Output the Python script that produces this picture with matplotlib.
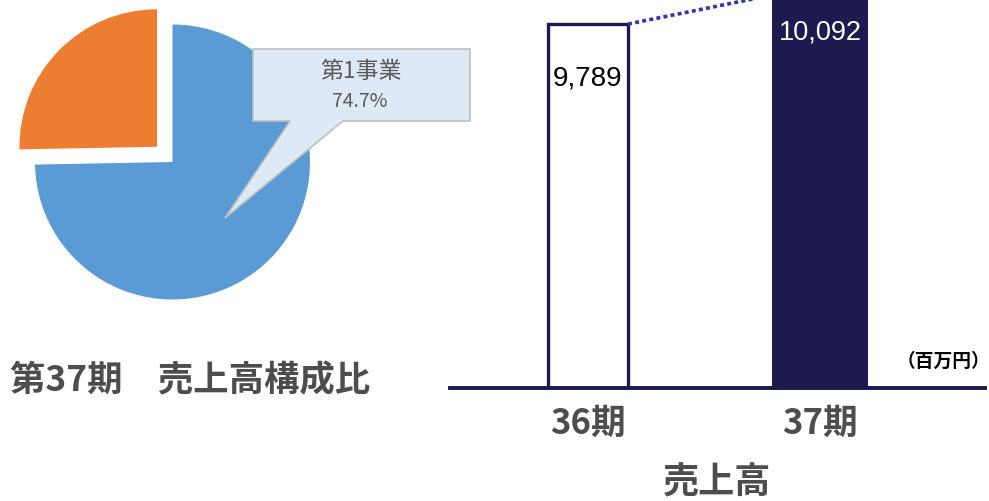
import matplotlib
matplotlib.use("Agg")
import matplotlib.pyplot as plt
from matplotlib.patches import Polygon

plt.rcParams["font.family"] = ["Noto Sans CJK JP", "DejaVu Sans"]

# pie: 第37期 売上高構成比
segments = ["第1事業", "その他"]
shares = [74.7, 25.3]
seg_colors = ["#5b9bd5", "#ed7d31"]
seg_explode = [0.0, 0.158]

# bars: 売上高 (百万円)
periods = ["36期", "37期"]
sales = [9789, 10092]

W, H = 989, 501
NAVY = "#1c1a4e"
GRAY = "#4d4d4d"

fig = plt.figure(figsize=(W / 100, H / 100), dpi=100)


def px_rect(x0, y0, x1, y1):
    # pixel box (top-left origin) -> figure fraction
    return [x0 / W, 1 - y1 / H, (x1 - x0) / W, (y1 - y0) / H]


# ---- pie -------------------------------------------------------------
cx, cy, r = 172.5, 162, 137.5
half = 1.25 * r
ax_pie = fig.add_axes(px_rect(cx - half, cy - half, cx + half, cy + half))
ax_pie.pie(shares, colors=seg_colors, explode=seg_explode, startangle=90,
           counterclock=False, wedgeprops=dict(linewidth=0))
ax_pie.set_xlim(-1.25, 1.25)
ax_pie.set_ylim(-1.25, 1.25)

# ---- bars ------------------------------------------------------------
ax = fig.add_axes(px_rect(450, 0, 985, 388))
xs = [0, 1]
widths = [0.345, 0.41]
ax.bar(xs[0], sales[0], width=widths[0], color="white", edgecolor=NAVY,
       linewidth=2.4, zorder=2)
ax.bar(xs[1], sales[1], width=widths[1], color=NAVY, edgecolor=NAVY,
       linewidth=0, zorder=2)
ax.set_xlim(-0.595, 1.711)
ax.set_ylim(5990, 10040)

# dotted growth line between bar tops
ax.plot([xs[0] + widths[0] / 2, xs[1] - widths[1] / 2], sales,
        color="#3535a5", linewidth=2.6, dashes=(1.1, 0.9),
        solid_capstyle="butt", dash_capstyle="butt", zorder=3)

ax.annotate(f"{sales[0]:,}", (xs[0], sales[0]), xytext=(0, -39),
            textcoords="offset points", ha="center", va="center",
            fontsize=20, color="black", family="Liberation Sans", zorder=4,
            annotation_clip=False)
ax.annotate(f"{sales[1]:,}", (xs[1], sales[1]), xytext=(0, -27),
            textcoords="offset points", ha="center", va="center",
            fontsize=19.5, color="white", family="Liberation Sans", zorder=4,
            annotation_clip=False)

for side in ["top", "right", "left"]:
    ax.spines[side].set_visible(False)
ax.spines["bottom"].set_color(NAVY)
ax.spines["bottom"].set_linewidth(2.8)
ax.set_yticks([])
ax.set_xticks(xs)
ax.set_xticklabels(periods, fontsize=25, fontweight="bold", color=GRAY)
ax.tick_params(axis="x", length=0, pad=13)
ax.set_xlabel("売上高", fontsize=26, fontweight="bold", color=GRAY, labelpad=17)
ax.patch.set_alpha(0)

# ---- overlay: callout and free text ------------------------------------
ov = fig.add_axes([0, 0, 1, 1], zorder=10)
ov.set_xlim(0, W)
ov.set_ylim(H, 0)
ov.axis("off")
ov.patch.set_alpha(0)

callout = Polygon([(253, 49), (470, 49), (470, 121), (343, 121), (225, 218),
                   (290, 121), (253, 121)], closed=True,
                  facecolor="#dde9f5", edgecolor="#bfbfbf", linewidth=1.2)
ov.add_patch(callout)
ov.text(361, 71, segments[0], ha="center", va="center", fontsize=16.5,
        color="#595959")
ov.text(360, 101, f"{shares[0]}%", ha="center", va="center", fontsize=14,
        color="#595959")

ov.text(10, 381, "第37期　売上高構成比", ha="left", va="center", fontsize=25.5,
        fontweight="bold", color=GRAY)
ov.text(990, 361, "（百万円）", ha="right", va="center", fontsize=13.5,
        fontweight="bold", color="black")

fig.savefig("out.png", dpi=100)
